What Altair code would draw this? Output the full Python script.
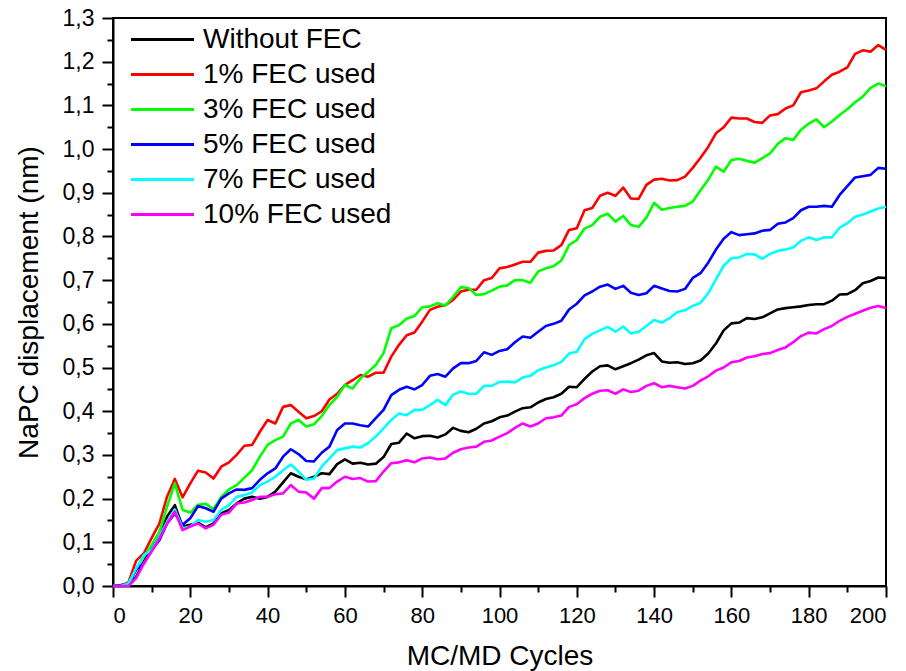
import altair as alt
import pandas as pd

cycles = list(range(0, 201, 2))

without_fec = [0, 0, 0.002, 0.021, 0.056, 0.09, 0.113, 0.159, 0.185, 0.136,
               0.14, 0.145, 0.134, 0.143, 0.166, 0.174, 0.189, 0.2, 0.204, 0.2,
               0.204, 0.216, 0.237, 0.258, 0.25, 0.244, 0.25, 0.258, 0.256, 0.279,
               0.29, 0.28, 0.282, 0.278, 0.28, 0.295, 0.325, 0.328, 0.349, 0.338,
               0.343, 0.344, 0.34, 0.347, 0.362, 0.355, 0.352, 0.36, 0.372, 0.377,
               0.386, 0.39, 0.399, 0.407, 0.409, 0.42, 0.428, 0.432, 0.44, 0.456,
               0.455, 0.474, 0.491, 0.503, 0.505, 0.496, 0.503, 0.51, 0.518, 0.528,
               0.533, 0.514, 0.511, 0.512, 0.508, 0.51, 0.516, 0.532, 0.555, 0.585,
               0.601, 0.603, 0.613, 0.611, 0.615, 0.624, 0.633, 0.636, 0.638, 0.64,
               0.643, 0.645, 0.645, 0.653, 0.667, 0.668, 0.677, 0.693, 0.698, 0.706,
               0.705]

fec_1 = [0, 0, 0.008, 0.058, 0.075, 0.11, 0.143, 0.205, 0.245, 0.203,
         0.235, 0.264, 0.26, 0.246, 0.273, 0.283, 0.3, 0.321, 0.323, 0.353,
         0.38, 0.372, 0.41, 0.414, 0.399, 0.384, 0.389, 0.4, 0.427, 0.44,
         0.46, 0.471, 0.483, 0.479, 0.488, 0.488, 0.525, 0.552, 0.574, 0.58,
         0.605, 0.632, 0.639, 0.643, 0.655, 0.674, 0.678, 0.678, 0.7, 0.705,
         0.727, 0.73, 0.736, 0.742, 0.742, 0.763, 0.767, 0.768, 0.78, 0.815,
         0.819, 0.86, 0.865, 0.893, 0.9, 0.893, 0.912, 0.887, 0.886, 0.918,
         0.93, 0.932, 0.928, 0.929, 0.937, 0.957, 0.98, 1.005, 1.036, 1.05,
         1.072, 1.07, 1.07, 1.062, 1.06, 1.077, 1.08, 1.093, 1.1, 1.13,
         1.134, 1.139, 1.155, 1.17, 1.177, 1.187, 1.218, 1.226, 1.223, 1.238,
         1.227]

fec_3 = [0, 0, 0, 0.04, 0.067, 0.094, 0.124, 0.182, 0.235, 0.174,
         0.168, 0.186, 0.188, 0.176, 0.204, 0.221, 0.231, 0.248, 0.265, 0.296,
         0.323, 0.334, 0.342, 0.372, 0.38, 0.365, 0.37, 0.389, 0.414, 0.433,
         0.46, 0.452, 0.475, 0.49, 0.506, 0.533, 0.59, 0.597, 0.612, 0.618,
         0.638, 0.64, 0.647, 0.642, 0.662, 0.684, 0.682, 0.666, 0.668, 0.676,
         0.685, 0.688, 0.7, 0.7, 0.694, 0.72, 0.727, 0.732, 0.745, 0.78,
         0.792, 0.818, 0.826, 0.845, 0.852, 0.834, 0.847, 0.826, 0.822, 0.843,
         0.877, 0.861, 0.865, 0.868, 0.87, 0.88, 0.906, 0.93, 0.96, 0.948,
         0.975, 0.978, 0.973, 0.969, 0.979, 0.99, 1.012, 1.025, 1.021, 1.044,
         1.058, 1.068, 1.05, 1.063, 1.078, 1.091, 1.107, 1.12, 1.14, 1.15,
         1.144]

fec_5 = [0, 0.002, 0.005, 0.037, 0.052, 0.082, 0.105, 0.143, 0.166, 0.14,
         0.155, 0.183, 0.178, 0.17, 0.2, 0.212, 0.221, 0.22, 0.224, 0.243,
         0.258, 0.269, 0.296, 0.313, 0.302, 0.286, 0.285, 0.305, 0.319, 0.357,
         0.372, 0.372, 0.368, 0.365, 0.384, 0.403, 0.437, 0.449, 0.456, 0.45,
         0.46, 0.481, 0.485, 0.479, 0.498, 0.51, 0.51, 0.515, 0.535, 0.529,
         0.538, 0.542, 0.558, 0.571, 0.568, 0.582, 0.595, 0.6, 0.607, 0.633,
         0.646, 0.665, 0.674, 0.685, 0.69, 0.68, 0.687, 0.671, 0.666, 0.67,
         0.687, 0.681, 0.675, 0.674, 0.68, 0.705, 0.716, 0.74, 0.77, 0.795,
         0.81, 0.803, 0.805, 0.807, 0.813, 0.815, 0.829, 0.832, 0.842, 0.86,
         0.868, 0.868, 0.87, 0.868, 0.895, 0.915, 0.935, 0.938, 0.941, 0.957,
         0.955]

fec_7 = [0, 0, 0.006, 0.04, 0.071, 0.082, 0.113, 0.147, 0.175, 0.132,
         0.136, 0.151, 0.147, 0.151, 0.174, 0.185, 0.204, 0.208, 0.214, 0.231,
         0.239, 0.25, 0.265, 0.278, 0.262, 0.243, 0.246, 0.273, 0.292, 0.311,
         0.315, 0.319, 0.317, 0.327, 0.342, 0.361, 0.38, 0.395, 0.391, 0.403,
         0.403, 0.414, 0.426, 0.414, 0.438, 0.445, 0.44, 0.44, 0.458, 0.458,
         0.467, 0.468, 0.466, 0.477, 0.481, 0.494, 0.5, 0.505, 0.513, 0.532,
         0.536, 0.565, 0.577, 0.585, 0.593, 0.582, 0.594, 0.578, 0.582, 0.595,
         0.609, 0.603, 0.613, 0.627, 0.631, 0.641, 0.648, 0.67, 0.702, 0.733,
         0.75, 0.752, 0.76, 0.759, 0.749, 0.76, 0.767, 0.77, 0.775, 0.79,
         0.798, 0.792, 0.798, 0.798, 0.82, 0.83, 0.845, 0.85, 0.857, 0.864,
         0.868]

fec_10 = [0, 0, 0, 0.018, 0.052, 0.079, 0.109, 0.143, 0.17, 0.128,
          0.136, 0.143, 0.132, 0.14, 0.163, 0.168, 0.189, 0.191, 0.197, 0.204,
          0.204, 0.21, 0.212, 0.231, 0.216, 0.214, 0.2, 0.224, 0.224, 0.239,
          0.25, 0.245, 0.247, 0.239, 0.24, 0.262, 0.281, 0.283, 0.288, 0.283,
          0.292, 0.294, 0.29, 0.292, 0.305, 0.313, 0.317, 0.319, 0.33, 0.333,
          0.342, 0.35, 0.362, 0.372, 0.365, 0.372, 0.384, 0.386, 0.39, 0.41,
          0.416, 0.43, 0.44, 0.447, 0.448, 0.44, 0.45, 0.444, 0.447, 0.458,
          0.464, 0.455, 0.458, 0.455, 0.452, 0.458, 0.47, 0.48, 0.493, 0.5,
          0.512, 0.515, 0.523, 0.526, 0.531, 0.533, 0.54, 0.546, 0.558, 0.572,
          0.58, 0.578, 0.588, 0.595, 0.607, 0.616, 0.623, 0.63, 0.637, 0.641,
          0.636]

series_names = ["Without FEC", "1% FEC used", "3% FEC used",
                "5% FEC used", "7% FEC used", "10% FEC used"]
series_colors = ["#000000", "#ff0000", "#00ff00", "#0000ff", "#00ffff", "#ff00ff"]
series_values = [without_fec, fec_1, fec_3, fec_5, fec_7, fec_10]

x_ticks = list(range(0, 201, 10))
y_ticks = [round(i * 0.05, 2) for i in range(27)]

rows = []
for k, (name, vals) in enumerate(zip(series_names, series_values)):
    for c, v in zip(cycles, vals):
        rows.append({"cycle": c, "disp": v, "series": name, "k": k})
df = pd.DataFrame(rows)

FONT = "Liberation Sans"

x_axis = alt.Axis(
    title="MC/MD Cycles",
    values=x_ticks,
    format="d",
    labelExpr="datum.value % 20 === 0 ? datum.label : ''",
    labelOverlap=False,
    grid=False,
    domainColor="black", domainWidth=2,
    tickColor="black", tickWidth=2,
    tickSize={"condition": {"test": "datum.value % 20 === 0", "value": 11}, "value": 6},
    labelFont=FONT, labelFontSize=22, labelColor="black", labelPadding=8,
    titleFont=FONT, titleFontSize=28, titleFontWeight="normal", titleColor="black",
    titlePadding=16,
)

y_axis = alt.Axis(
    title="NaPC displacement (nm)",
    values=y_ticks,
    labelExpr="abs(datum.value*10 - round(datum.value*10)) < 0.001 ? replace(format(datum.value, '.1f'), '.', ',') : ''",
    labelOverlap=False,
    grid=False,
    domainColor="black", domainWidth=2,
    tickColor="black", tickWidth=2,
    tickSize={"condition": {"test": "abs(datum.value*10 - round(datum.value*10)) < 0.001", "value": 11}, "value": 6},
    labelFont=FONT, labelFontSize=23, labelColor="black", labelPadding=8,
    titleFont=FONT, titleFontSize=28, titleFontWeight="normal", titleColor="black",
    titlePadding=19,
)

legend = alt.Legend(
    title=None,
    orient="none",
    legendX=33,
    legendY=5,
    symbolType="M-2.1,0H2.1",
    symbolSize=900,
    symbolStrokeWidth=3,
    labelFont=FONT,
    labelFontSize=28,
    labelColor="black",
    labelOffset=24,
    labelLimit=400,
    rowPadding=4,
    padding=0,
)

chart = alt.Chart(df).mark_line(strokeWidth=2.6, strokeJoin="round").encode(
    x=alt.X("cycle:Q", scale=alt.Scale(domain=[0, 200], nice=False, zero=False), axis=x_axis),
    y=alt.Y("disp:Q", scale=alt.Scale(domain=[0, 1.3], nice=False), axis=y_axis),
    color=alt.Color("series:N", scale=alt.Scale(domain=series_names, range=series_colors), legend=legend),
    order=alt.Order("cycle:Q"),
).properties(
    width=773,
    height=568,
    autosize="none",
    padding={"left": 113, "top": 18, "right": 20, "bottom": 85},
    background="white",
).configure_view(
    stroke="black",
    strokeWidth=2,
)

chart.save("out.html", embed_options={"renderer": "svg", "actions": False})
